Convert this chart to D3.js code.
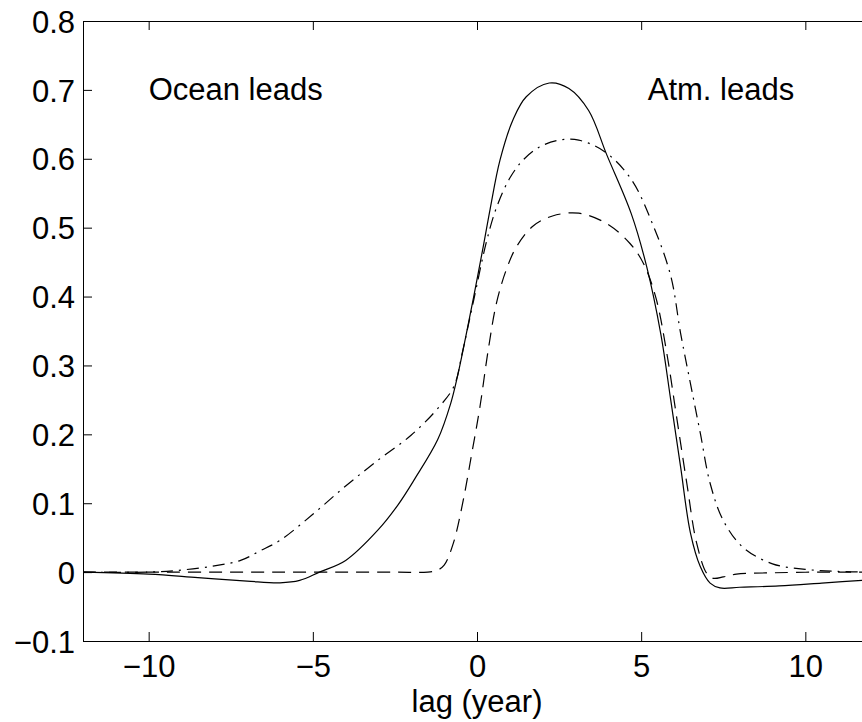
<!DOCTYPE html>
<html>
<head>
<meta charset="utf-8">
<script src="https://cdn.jsdelivr.net/npm/d3@7/dist/d3.min.js"></script>
<style>
  body { margin: 0; background: #fff; }
  text { font-family: "Liberation Sans", Arial, Helvetica, sans-serif; fill: #000; }
</style>
</head>
<body>
<div id="chart"></div>
<script>
// tick values
var xTicks = [-10, -5, 0, 5, 10];
var yTicks = [-0.1, 0, 0.1, 0.2, 0.3, 0.4, 0.5, 0.6, 0.7, 0.8];

// solid curve
var solidLag = [-12, -10, -8.5, -7, -6, -5.4, -4.8, -4, -3, -2.4, -1.9, -1.2, -0.8, -0.6, -0.35, -0.1, 0.2, 0.4, 0.7, 1.1, 1.5, 2.2, 2.8, 3.4, 3.95, 4.7, 5.17, 5.6, 5.9, 6.2, 6.5, 6.8, 7.1, 7.4, 8, 9.2, 10.5, 12];
var solidVal = [0, -0.003, -0.008, -0.013, -0.0155, -0.012, 0, 0.017, 0.062, 0.098, 0.135, 0.192, 0.245, 0.283, 0.34, 0.4, 0.475, 0.527, 0.598, 0.657, 0.69, 0.71, 0.702, 0.67, 0.606, 0.52, 0.443, 0.345, 0.25, 0.153, 0.057, 0.008, -0.016, -0.023, -0.022, -0.02, -0.016, -0.011];

// dash-dot curve
var dashDotLag = [-12, -10, -9, -8, -7.2, -6.6, -6, -5, -4, -3, -2, -1.15, -0.7, -0.45, -0.1, 0.3, 0.6, 1.0, 1.4, 1.9, 2.5, 3.1, 3.9, 4.7, 5.35, 5.9, 6.2, 6.5, 6.8, 7.1, 7.5, 8.1, 9, 10, 11, 12];
var dashDotVal = [0, 0, 0.003, 0.009, 0.017, 0.031, 0.046, 0.084, 0.125, 0.163, 0.199, 0.24, 0.27, 0.318, 0.395, 0.482, 0.53, 0.572, 0.598, 0.617, 0.627, 0.627, 0.61, 0.57, 0.505, 0.43, 0.347, 0.274, 0.202, 0.129, 0.075, 0.036, 0.012, 0.004, 0.001, 0];

// dashed curve
var dashedLag = [-12, -6, -2.5, -1.5, -1.2, -1.0, -0.72, -0.42, -0.16, 0.09, 0.34, 0.6, 0.9, 1.2, 1.7, 2.3, 3.1, 3.95, 4.66, 5.07, 5.45, 5.78, 6.08, 6.39, 6.69, 7.0, 7.2, 7.5, 7.9, 9, 10.5, 12];
var dashedVal = [0, 0, 0, 0, 0.003, 0.01, 0.042, 0.104, 0.172, 0.24, 0.322, 0.392, 0.44, 0.472, 0.502, 0.517, 0.521, 0.506, 0.477, 0.448, 0.398, 0.318, 0.225, 0.129, 0.042, -0.002, -0.009, -0.007, -0.003, -0.001, 0, 0];

var width = 862, height = 722;
var plotL = 83, plotR = 871, plotT = 21, plotB = 641;
var tickLen = 9;

var svg = d3.select("#chart").append("svg")
    .attr("width", width)
    .attr("height", height)
    .style("display", "block");

var x = d3.scaleLinear().domain([-12, 12]).range([plotL, plotR]);
var y = d3.scaleLinear().domain([-0.1, 0.8]).range([plotB, plotT]);

svg.append("defs").append("clipPath").attr("id", "plotArea")
    .append("rect")
    .attr("x", plotL).attr("y", plotT)
    .attr("width", plotR - plotL).attr("height", plotB - plotT);

// frame
svg.append("rect")
    .attr("x", plotL + 0.5).attr("y", plotT + 0.5)
    .attr("width", plotR - plotL).attr("height", plotB - plotT)
    .attr("fill", "none").attr("stroke", "#000").attr("stroke-width", 1);

// axes with inward ticks
var xAxisB = d3.axisBottom(x).tickValues(xTicks).tickSize(-tickLen).tickSizeOuter(0).tickPadding(14)
    .tickFormat(function (d) { return d < 0 ? "\u2212" + Math.abs(d) : d; });
var gx = svg.append("g").attr("transform", "translate(0," + plotB + ")").call(xAxisB);

var xAxisT = d3.axisTop(x).tickValues(xTicks).tickSize(-tickLen).tickSizeOuter(0).tickFormat("");
var gxt = svg.append("g").attr("transform", "translate(0," + plotT + ")").call(xAxisT);

var yAxisL = d3.axisLeft(y).tickValues(yTicks).tickSize(-tickLen).tickSizeOuter(0).tickPadding(8)
    .tickFormat(function (d) {
        if (Math.abs(d) < 1e-9) return "0";
        var s = d3.format(".1f")(Math.abs(d));
        return d < 0 ? "\u2212" + s : s;
    });
var gy = svg.append("g").attr("transform", "translate(" + plotL + ",0)").call(yAxisL);

var yAxisR = d3.axisRight(y).tickValues(yTicks).tickSize(-tickLen).tickSizeOuter(0).tickFormat("");
var gyr = svg.append("g").attr("transform", "translate(" + plotR + ",0)").call(yAxisR);

[gx, gxt, gy, gyr].forEach(function (g) {
    g.select(".domain").remove();
    g.selectAll(".tick line").attr("stroke", "#000").attr("stroke-width", 1);
    g.selectAll(".tick text").style("font-size", "31px").attr("fill", "#000");
});
gx.selectAll(".tick text").attr("dy", "0.71em");
gy.selectAll(".tick text").attr("dy", "0.36em");

// curves
var line = d3.line()
    .x(function (d) { return x(d[0]); })
    .y(function (d) { return y(d[1]); })
    .curve(d3.curveCatmullRom.alpha(0.5));

var series = [
    { lag: solidLag, val: solidVal, dash: null },
    { lag: dashDotLag, val: dashDotVal, dash: "12,6,2,6" },
    { lag: dashedLag, val: dashedVal, dash: "13,8" }
];

var plot = svg.append("g").attr("clip-path", "url(#plotArea)");
series.forEach(function (s) {
    var pts = s.lag.map(function (l, i) { return [l, s.val[i]]; });
    plot.append("path")
        .datum(pts)
        .attr("d", line)
        .attr("fill", "none")
        .attr("stroke", "#000")
        .attr("stroke-width", 1.2)
        .attr("stroke-dasharray", s.dash);
});

// annotations
svg.append("text")
    .attr("x", x(-10))
    .attr("y", y(0.7) + 10)
    .style("font-size", "31px")
    .text("Ocean leads");

svg.append("text")
    .attr("x", x(5.2))
    .attr("y", y(0.7) + 10)
    .style("font-size", "31px")
    .text("Atm. leads");

// axis label
svg.append("text")
    .attr("x", x(0))
    .attr("y", 712)
    .attr("text-anchor", "middle")
    .style("font-size", "31px")
    .text("lag (year)");
</script>
</body>
</html>
